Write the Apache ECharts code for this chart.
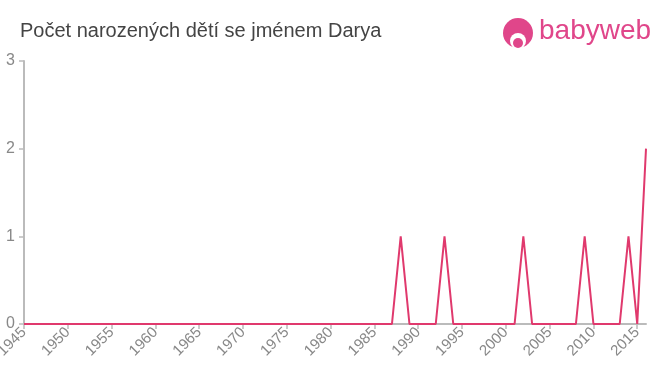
<!DOCTYPE html>
<html><head><meta charset="utf-8">
<script src="https://cdn.jsdelivr.net/npm/echarts@6/dist/echarts.min.js"></script>
<style>html,body{margin:0;padding:0;background:#fff}#c{width:660px;height:375px}</style>
</head><body><div id="c"></div>
<script>
const years = [1945,1946,1947,1948,1949,1950,1951,1952,1953,1954,
1955,1956,1957,1958,1959,1960,1961,1962,1963,1964,
1965,1966,1967,1968,1969,1970,1971,1972,1973,1974,
1975,1976,1977,1978,1979,1980,1981,1982,1983,1984,
1985,1986,1987,1988,1989,1990,1991,1992,1993,1994,
1995,1996,1997,1998,1999,2000,2001,2002,2003,2004,
2005,2006,2007,2008,2009,2010,2011,2012,2013,2014,
2015,2016];
const counts = [0,0,0,0,0,0,0,0,0,0,
0,0,0,0,0,0,0,0,0,0,
0,0,0,0,0,0,0,0,0,0,
0,0,0,0,0,0,0,0,0,0,
0,0,0,1,0,0,0,0,1,0,
0,0,0,0,0,0,0,1,0,0,
0,0,0,0,1,0,0,0,0,1,
0,2];
const xTicks = [1945,1950,1955,1960,1965,1970,1975,1980,1985,1990,1995,2000,2005,2010,2015];
const yTicks = [0,1,2,3];
const title = 'Počet narozených dětí se jménem Darya';

const chart = echarts.init(document.getElementById('c'), null, {renderer:'canvas'});
chart.setOption({
  animation:false,
  title:{text:title,left:15,top:16,textStyle:{fontFamily:'Liberation Sans, Arial, sans-serif',fontSize:20,fontWeight:'normal',color:'#444'}},
  grid:{left:24,right:14,top:61,bottom:51,containLabel:false,outerBoundsMode:'none'},
  xAxis:{type:'value',min:1945,max:2016,interval:5,
    axisLine:{lineStyle:{color:'#bbb',width:2}},
    axisTick:{customValues:xTicks,length:5,lineStyle:{color:'#bbb',width:1.5}},
    axisLabel:{customValues:xTicks,rotate:45,color:'#888',fontSize:15,fontFamily:'Liberation Sans, Arial, sans-serif',margin:6,formatter:v=>String(v)},
    splitLine:{show:false}},
  yAxis:{type:'value',min:0,max:3,interval:1,
    axisLine:{show:true,lineStyle:{color:'#bbb',width:2}},
    axisTick:{show:true,length:5,lineStyle:{color:'#bbb',width:1.5}},
    axisLabel:{customValues:yTicks,color:'#888',fontSize:16,fontFamily:'Liberation Sans, Arial, sans-serif',margin:9},
    splitLine:{show:false}},
  series:[{type:'line',data:years.map((y,i)=>[y,counts[i]]),showSymbol:false,
    lineStyle:{color:'#e0396d',width:2},itemStyle:{color:'#e0396d'}}],
  graphic:[
    {type:'circle',shape:{cx:518,cy:33,r:15},style:{fill:'#e0468a'}},
    {type:'circle',shape:{cx:518,cy:41,r:8},style:{fill:'#fff'}},
    {type:'circle',shape:{cx:518,cy:43,r:5},style:{fill:'#e0468a'}},
    {type:'text',left:539,top:17,style:{text:'babyweb',fill:'#e0468a',font:'28px "Liberation Sans", Arial, sans-serif'}}
  ]
});
</script></body></html>
